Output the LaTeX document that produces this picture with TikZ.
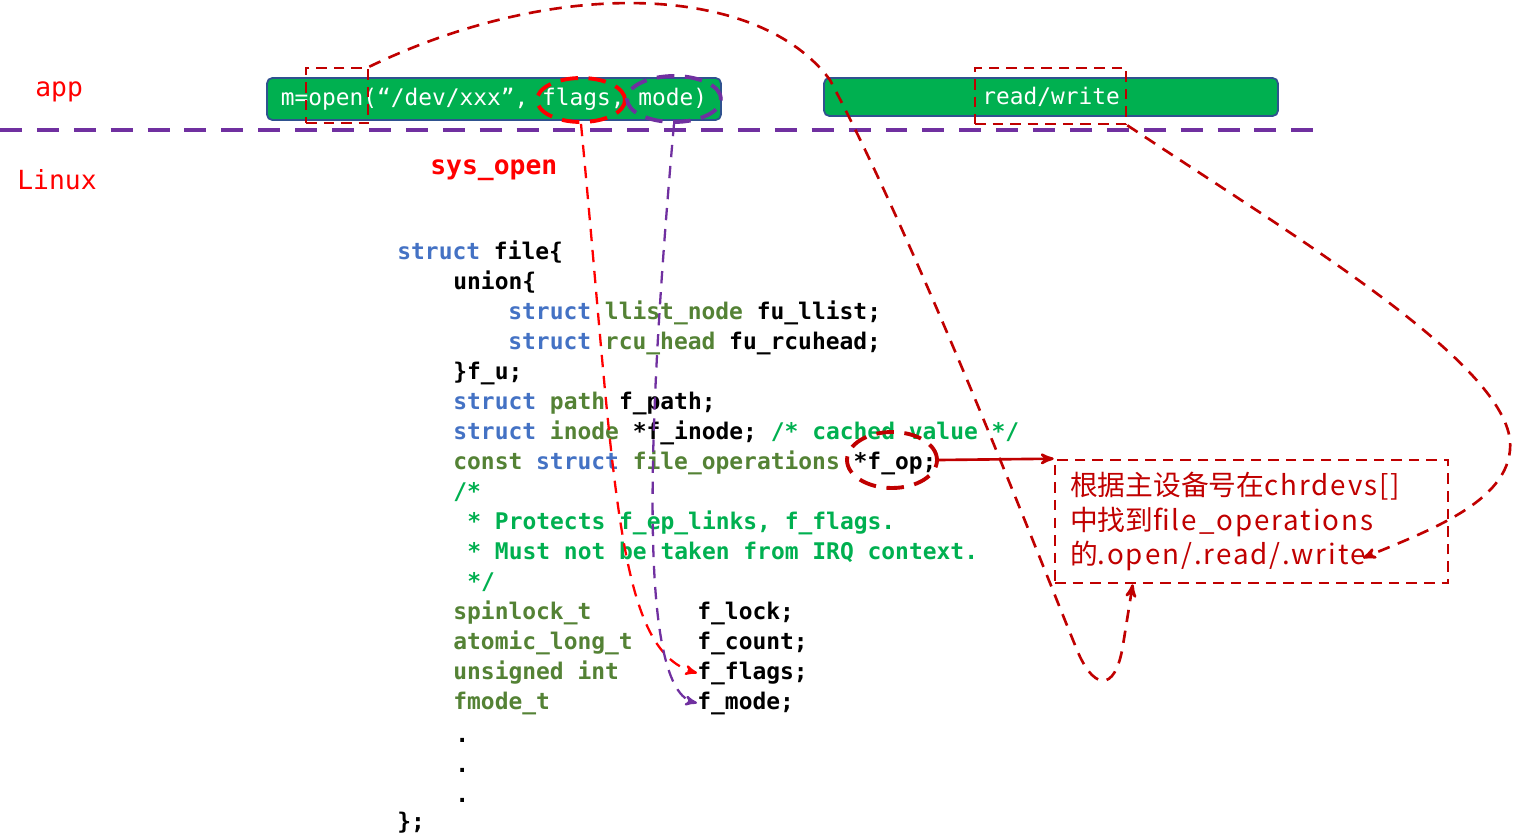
\documentclass[tikz,border=0pt]{standalone}
\usepackage{fontspec}
\setmonofont{DejaVu Sans Mono}
\newfontfamily\cjk{Noto Sans CJK SC}
\newfontfamily\cjkwide{Noto Sans CJK SC}[LetterSpace=7]
\usepackage{tikz}
\usetikzlibrary{arrows,shapes,calc,positioning}
\tikzset{
  >=stealth'
}
\definecolor{boxgreen}{HTML}{00B050}
\definecolor{boxblue}{HTML}{2F528F}
\definecolor{kwblue}{HTML}{4472C4}
\definecolor{typegreen}{HTML}{548235}
\definecolor{cmtgreen}{HTML}{00B050}
\definecolor{darkred}{HTML}{C00000}
\definecolor{lpurple}{HTML}{7030A0}
\newcommand{\kwd}[1]{\textcolor{kwblue}{#1}}
\newcommand{\typ}[1]{\textcolor{typegreen}{#1}}
\newcommand{\cmt}[1]{\textcolor{cmtgreen}{#1}}
\newcommand{\lat}[1]{{\cjkwide #1}}

\begin{document}
\begin{tikzpicture}[x=0.02cm, y=-0.02cm,
    codeline/.style={anchor=west, inner sep=0pt, text height=10pt, text depth=3pt, font=\ttfamily\bfseries\fontsize{13.05}{16}\selectfont},
    appbox/.style={draw=boxblue, fill=boxgreen, rounded corners=3pt, line width=1pt, text=white, font=\ttfamily\fontsize{13}{16}\selectfont, minimum width=9.08cm, inner sep=0pt},
    ring/.style={ellipse, draw, line width=2.2pt, dash pattern=on 10pt off 6pt, inner sep=0pt},
    hilite/.style={draw=darkred, line width=1.5pt, dash pattern=on 6pt off 4pt, inner sep=0pt},
    link/.style={->, line width=1.5pt, dash pattern=on 7pt off 5pt}]
        \useasboundingbox (0,0) rectangle (1514,835);

        \node (app) at (35,92) [anchor=west, inner sep=0pt, text=red, font=\ttfamily\fontsize{15}{18}\selectfont] {app};
        \node (linux) at (17,180) [anchor=west, inner sep=0pt, text=red, font=\ttfamily\fontsize{15}{18}\selectfont] {Linux};
        \node (sys) at (430,170) [anchor=west, inner sep=0pt, text=red, font=\ttfamily\bfseries\fontsize{15}{18}\selectfont] {sys\_open};

        \node (B1) at (494,99) [appbox, minimum height=0.84cm] {m=open(“/dev/xxx”, flags, mode)};
        \node (B2) at (1051,97) [appbox, minimum height=0.76cm] {read/write};

        \coordinate (sepL) at (0,130);
        \coordinate (sepR) at (1328,130);
        \draw[lpurple, line width=2.8pt, dash pattern=on 12.5pt off 8.5pt] (sepL) -- (sepR);

        \node (L1) at (397,253) [codeline] {\kwd{struct} file\{};
        \node (L2) at (453,283) [codeline] {union\{};
        \node (L3) at (508,313) [codeline] {\kwd{struct} \typ{llist\_node} fu\_llist;};
        \node (L4) at (508,343) [codeline] {\kwd{struct} \typ{rcu\_head} fu\_rcuhead;};
        \node (L5) at (453,373) [codeline] {\}f\_u;};
        \node (L6) at (453,403) [codeline] {\kwd{struct} \typ{path} f\_path;};
        \node (L7) at (453,433) [codeline] {\kwd{struct} \typ{inode} *f\_inode; \cmt{/* cached value */}};
        \node (L8) at (453,463) [codeline] {\typ{const} \kwd{struct} \typ{file\_operations} *f\_op;};
        \node (L9) at (453,493) [codeline] {\cmt{/*}};
        \node (L10) at (467,523) [codeline] {\cmt{* Protects f\_ep\_links, f\_flags.}};
        \node (L11) at (467,553) [codeline] {\cmt{* Must not be taken from IRQ context.}};
        \node (L12) at (467,583) [codeline] {\cmt{*/}};
        \node (L13) at (453,613) [codeline] {\typ{spinlock\_t}};
        \node (L14) at (453,643) [codeline] {\typ{atomic\_long\_t}};
        \node (L15) at (453,673) [codeline] {\typ{unsigned int}};
        \node (L16) at (453,703) [codeline] {\typ{fmode\_t}};
        \node (T1) at (697,613) [codeline] {f\_lock;};
        \node (T2) at (697,643) [codeline] {f\_count;};
        \node (T3) at (697,673) [codeline] {f\_flags;};
        \node (T4) at (697,703) [codeline] {f\_mode;};
        \node (D1) at (455,736) [codeline] {.};
        \node (D2) at (455,766) [codeline] {.};
        \node (D3) at (455,796) [codeline] {.};
        \node (L20) at (397,823) [codeline] {\};};

        \node (cbox) at (1251.5,521.5) [hilite, minimum width=7.86cm, minimum height=2.46cm, text width=7.26cm, align=left, text=darkred, font=\cjk\fontsize{15.8}{19.9}\selectfont] {\raisebox{-2pt}{根据主设备号在\lat{chrdevs[]}}\\\raisebox{-2pt}{中找到\lat{file\_operations}}\\\raisebox{-2pt}{的\lat{.open/.read/.write}}};

        \node (openR) at (337,95.5) [hilite, minimum width=1.24cm, minimum height=1.1cm] {};
        \node (rwR) at (1050.5,96) [hilite, minimum width=3.02cm, minimum height=1.12cm] {};
        \node (flagsE) at (581,100) [ring, red, minimum width=1.76cm, minimum height=0.88cm] {};
        \node (modeE) at (674,99) [ring, lpurple, minimum width=1.88cm, minimum height=0.92cm] {};
        \node (opE) at (892,460) [ring, darkred, minimum width=1.8cm, minimum height=1.12cm] {};

        \coordinate (cin) at (1363,558);
        \draw[->, darkred, line width=1.5pt] (opE.east) -- (cbox.north west);
        \draw[link, red, line width=1.3pt] (flagsE.south) .. controls (615,480) and (615,650) .. (T3.west);
        \draw[link, lpurple, line width=1.3pt] (modeE.south) .. controls (645,450) and (640,690) .. (T4.west);
        \draw[link, darkred] (openR.north east) .. controls (560,-25) and (760,-15) .. (830,80) .. controls (920,250) and (1040,560) .. (1075,645) .. controls (1092,690) and (1115,695) .. (1123,645) -- ($(cbox.south west)+(79,0)$);
        \draw[link, darkred] (rwR.south east) .. controls (1300,240) and (1500,360) .. (1510,440) .. controls (1515,500) and (1430,530) .. (cin);
\end{tikzpicture}
\end{document}
